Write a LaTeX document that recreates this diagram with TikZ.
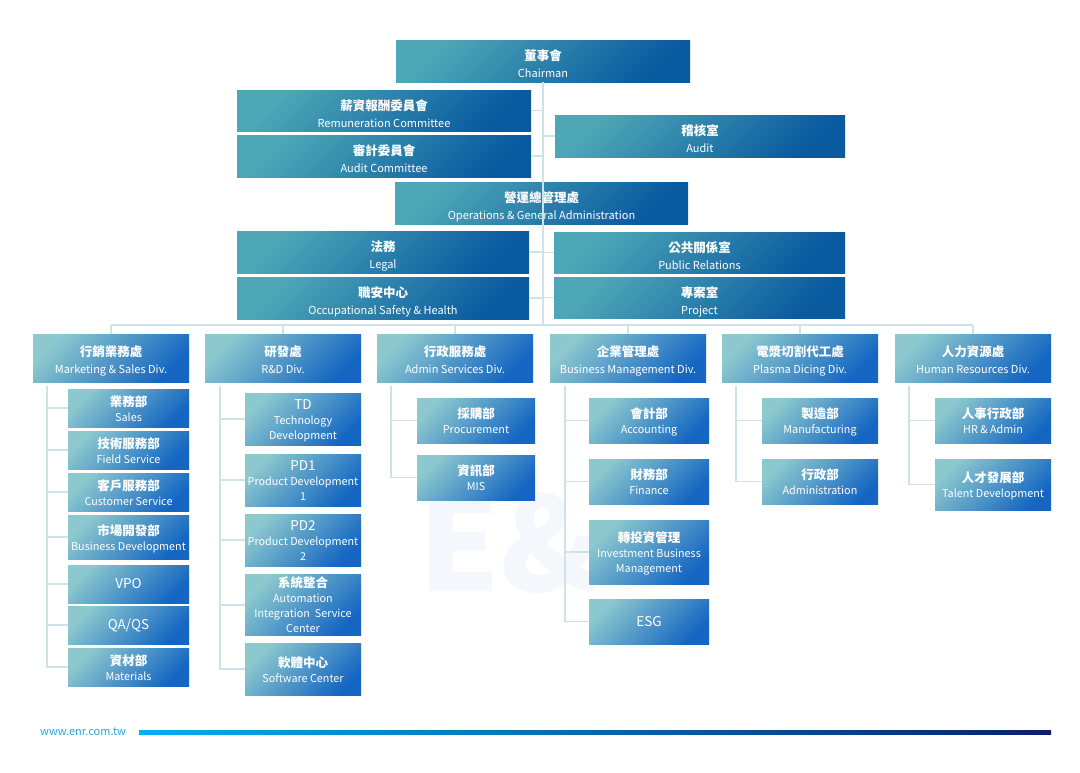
\documentclass[tikz,border=0pt]{standalone}
\usepackage{fontspec}
\setmainfont{Noto Sans CJK TC}
\definecolor{tlA}{HTML}{4DA7B6}
\definecolor{tlB}{HTML}{0A5AA0}
\definecolor{sbA}{HTML}{8CC8CE}
\definecolor{sbB}{HTML}{1466C2}
\definecolor{lnC}{HTML}{CFE2EA}
\definecolor{wmC}{HTML}{F4F8FC}
\definecolor{urlC}{HTML}{2AA6DE}
\definecolor{barA}{HTML}{00B0F0}
\definecolor{barB}{HTML}{0B1E6E}
\newcommand\cjkl{\fontsize{12.5}{15}\selectfont\bfseries}
\newcommand\bigtxt{\fontsize{13.5}{15}\selectfont}
% multi-line label lowered by #1 without changing its box
\newcommand\lowered[2]{\raisebox{-#1}[\height][\depth]{\begin{tabular}{@{}c@{}}#2\end{tabular}}}
\begin{document}
\begin{tikzpicture}[x=1pt,y=-1pt,
  box/.style={shade, shading angle=45, text=white, align=center, inner sep=0pt, font=\fontsize{10.8}{15}\selectfont},
  topbox/.style={box, top color=tlA, bottom color=tlB, shading angle=45, font=\fontsize{11}{17}\selectfont},
  subbox/.style={box, top color=sbA, bottom color=sbB, shading angle=45},
  divbox/.style={subbox, font=\fontsize{11}{17}\selectfont},
  conn/.style={draw=lnC, line width=1.2pt}]
\useasboundingbox (0,0) rectangle (1080,772);
\fill[white] (0,0) rectangle (1080,772);
% watermark
\node[text=wmC, font=\fontsize{130}{130}\selectfont\bfseries, anchor=south west, inner sep=0pt, text height=90pt, text depth=0pt] (wm) at (418,592) {E\&};
% top
\node[topbox, minimum width=294pt, minimum height=42pt] (chair) at (543,61) {\lowered{5pt}{{\cjkl 董事會}\\Chairman}};
\node[topbox, minimum width=294pt, minimum height=41pt] (rem) at (384,110.5) {\lowered{5pt}{{\cjkl 薪資報酬委員會}\\Remuneration Committee}};
\node[topbox, minimum width=294pt, minimum height=42pt] (audc) at (384,156) {\lowered{5pt}{{\cjkl 審計委員會}\\Audit Committee}};
\node[topbox, minimum width=290pt, minimum height=42pt] (audit) at (700,136) {\lowered{5pt}{{\cjkl 稽核室}\\Audit}};
\node[topbox, minimum width=293pt, minimum height=42pt] (ops) at (541.5,203) {\lowered{5pt}{{\cjkl 營運總管理處}\\Operations \& General Administration}};
\node[topbox, minimum width=292pt, minimum height=42pt] (legal) at (383,252) {\lowered{5pt}{{\cjkl 法務}\\Legal}};
\node[topbox, minimum width=292pt, minimum height=42pt] (osh) at (383,298) {\lowered{5pt}{{\cjkl 職安中心}\\Occupational Safety \& Health}};
\node[topbox, minimum width=291pt, minimum height=41pt] (pr) at (699.5,252.5) {\lowered{5pt}{{\cjkl 公共關係室}\\Public Relations}};
\node[topbox, minimum width=291pt, minimum height=41pt] (proj) at (699.5,297.5) {\lowered{5pt}{{\cjkl 專案室}\\Project}};
% trunk
\coordinate (bus) at (543,325);
\coordinate (busL) at (111,325);
\coordinate (busR) at (973,325);
\draw[conn] (chair.south) -- (bus);
\draw[conn] (busL) -- (busR);
\foreach \n in {rem,audc,legal,osh} \draw[conn] (\n.east) -- (\n.east -| bus);
\foreach \n in {audit,pr,proj} \draw[conn] (\n.west) -- (\n.west -| bus);
% divisions
\node[divbox, minimum width=156pt, minimum height=48pt] (mk) at (111,358) {\lowered{3.5pt}{{\cjkl 行銷業務處}\\Marketing \& Sales Div.}};
\node[divbox, minimum width=156pt, minimum height=48pt] (rd) at (283,358) {\lowered{3.5pt}{{\cjkl 研發處}\\R\&D Div.}};
\node[divbox, minimum width=156pt, minimum height=48pt] (as) at (455,358) {\lowered{3.5pt}{{\cjkl 行政服務處}\\Admin Services Div.}};
\node[divbox, minimum width=156pt, minimum height=48pt] (bm) at (628,358) {\lowered{3.5pt}{{\cjkl 企業管理處}\\Business Management Div.}};
\node[divbox, minimum width=156pt, minimum height=48pt] (pd) at (800,358) {\lowered{3.5pt}{{\cjkl 電漿切割代工處}\\Plasma Dicing Div.}};
\node[divbox, minimum width=156pt, minimum height=48pt] (hr) at (973,358) {\lowered{3.5pt}{{\cjkl 人力資源處}\\Human Resources Div.}};
\foreach \n in {mk,rd,as,bm,pd,hr} \draw[conn] (\n.north) -- (\n.north |- bus);
% marketing
\node[subbox, minimum width=121pt, minimum height=38pt] (sales) at (128.5,408) {\lowered{2.5pt}{{\cjkl 業務部}\\Sales}};
\node[subbox, minimum width=121pt, minimum height=38pt] (field) at (128.5,450) {\lowered{2.5pt}{{\cjkl 技術服務部}\\Field Service}};
\node[subbox, minimum width=121pt, minimum height=38pt] (cust) at (128.5,492) {\lowered{2.5pt}{{\cjkl 客戶服務部}\\Customer Service}};
\node[subbox, minimum width=121pt, minimum height=44pt] (bizdev) at (128.5,537) {\lowered{2.5pt}{{\cjkl 市場開發部}\\Business Development}};
\node[subbox, minimum width=121pt, minimum height=38pt] (vpo) at (128.5,584) {\bigtxt VPO};
\node[subbox, minimum width=121pt, minimum height=38pt] (qa) at (128.5,625) {\bigtxt QA/QS};
\node[subbox, minimum width=121pt, minimum height=38pt] (mat) at (128.5,667) {\lowered{2.5pt}{{\cjkl 資材部}\\Materials}};
\coordinate (mkv) at (47,386);
\draw[conn] (mkv) |- (mat.west);
\foreach \n in {sales,field,cust,bizdev,vpo,qa} \draw[conn] (\n.west) -- (\n.west -| mkv);
% R&D
\node[subbox, minimum width=116pt, minimum height=52pt] (td) at (303,419) {\lowered{2pt}{{\bigtxt TD}\\Technology\\Development}};
\node[subbox, minimum width=116pt, minimum height=52pt] (pdone) at (303,480) {\lowered{2pt}{{\bigtxt PD1}\\Product Development\\1}};
\node[subbox, minimum width=116pt, minimum height=52pt] (pdtwo) at (303,540) {\lowered{2pt}{{\bigtxt PD2}\\Product Development\\2}};
\node[subbox, minimum width=116pt, minimum height=60pt] (sys) at (303,605) {\lowered{2pt}{{\cjkl 系統整合}\\Automation\\Integration\ \ Service\\Center}};
\node[subbox, minimum width=116pt, minimum height=52pt] (sw) at (303,669) {\lowered{2.5pt}{{\cjkl 軟體中心}\\Software Center}};
\coordinate (rdv) at (220,386);
\draw[conn] (rdv) |- (sw.west);
\foreach \n in {td,pdone,pdtwo,sys} \draw[conn] (\n.west) -- (\n.west -| rdv);
% admin
\node[subbox, minimum width=118pt, minimum height=45pt] (proc) at (476,420.5) {\lowered{2.5pt}{{\cjkl 採購部}\\Procurement}};
\node[subbox, minimum width=118pt, minimum height=45pt] (mis) at (476,477.5) {\lowered{2.5pt}{{\cjkl 資訊部}\\MIS}};
\coordinate (asv) at (391,386);
\draw[conn] (asv) |- (mis.west);
\draw[conn] (proc.west) -- (proc.west -| asv);
% BM
\node[subbox, minimum width=120pt, minimum height=45pt] (acc) at (649,420.5) {\lowered{2.5pt}{{\cjkl 會計部}\\Accounting}};
\node[subbox, minimum width=120pt, minimum height=45pt] (fin) at (649,481.5) {\lowered{2.5pt}{{\cjkl 財務部}\\Finance}};
\node[subbox, minimum width=120pt, minimum height=64pt] (inv) at (649,552) {\lowered{2.5pt}{{\cjkl 轉投資管理}\\Investment Business\\Management}};
\node[subbox, minimum width=120pt, minimum height=45pt] (esg) at (649,621.5) {\bigtxt ESG};
\coordinate (bmv) at (565,386);
\draw[conn] (bmv) |- (esg.west);
\foreach \n in {acc,fin,inv} \draw[conn] (\n.west) -- (\n.west -| bmv);
% plasma
\node[subbox, minimum width=116pt, minimum height=45pt] (mfg) at (820,420.5) {\lowered{2.5pt}{{\cjkl 製造部}\\Manufacturing}};
\node[subbox, minimum width=116pt, minimum height=45pt] (adm) at (820,481.5) {\lowered{2.5pt}{{\cjkl 行政部}\\Administration}};
\coordinate (pdv) at (736,386);
\draw[conn] (pdv) |- (adm.west);
\draw[conn] (mfg.west) -- (mfg.west -| pdv);
% HR
\node[subbox, minimum width=116pt, minimum height=45pt] (hra) at (993,420.5) {\lowered{2.5pt}{{\cjkl 人事行政部}\\HR \& Admin}};
\node[subbox, minimum width=116pt, minimum height=51pt] (tal) at (993,484.5) {\lowered{2.5pt}{{\cjkl 人才發展部}\\Talent Development}};
\coordinate (hrv) at (909,386);
\draw[conn] (hrv) |- (tal.west);
\draw[conn] (hra.west) -- (hra.west -| hrv);
% footer
\node[text=urlC, font=\fontsize{11}{12}\selectfont, anchor=west, inner sep=0pt] (url) at (40,731.5) {www.enr.com.tw};
\shade[left color=barA, right color=barB] (139,730) rectangle (1051,734);
\end{tikzpicture}
\end{document}
